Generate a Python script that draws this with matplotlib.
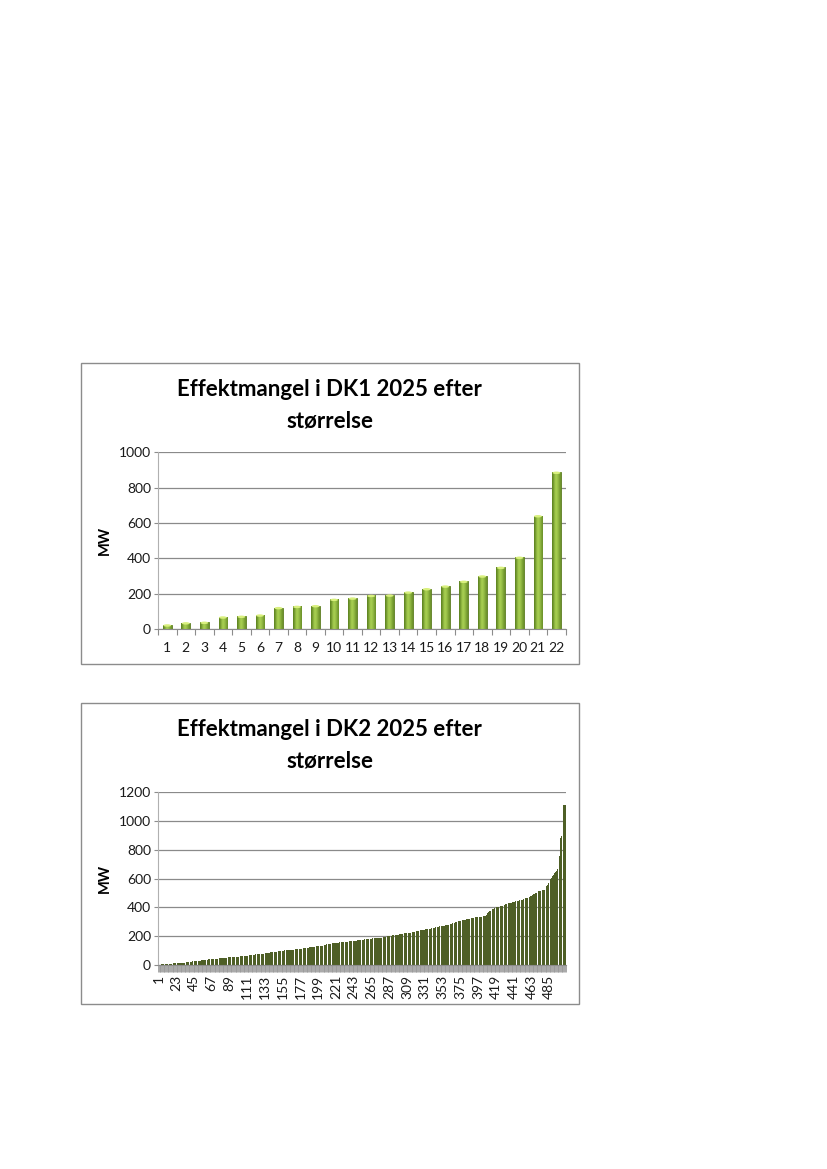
import numpy as np
import matplotlib
matplotlib.use("Agg")
import matplotlib.pyplot as plt
from matplotlib.patches import Rectangle, Ellipse
from matplotlib.colors import LinearSegmentedColormap

plt.rcParams['font.family'] = ['Lato', 'DejaVu Sans']

# ---------------- data ----------------
dk1_title = ["Effektmangel i DK1 2025 efter", "størrelse"]
dk2_title = ["Effektmangel i DK2 2025 efter", "størrelse"]
y_label = "MW"

dk1_categories = list(range(1, 23))
dk1_values = [23, 35, 38, 68, 72, 79, 121, 128, 132, 168, 175, 190, 192, 209,
              228, 243, 270, 300, 349, 406, 641, 887]
dk1_yticks = [0, 200, 400, 600, 800, 1000]

dk2_values = [
    2, 2, 3, 3, 4, 4, 5, 5, 6, 6, 7, 7, 8, 8, 9, 9, 10, 10, 11, 11, 12, 12, 12, 13, 13,
    14, 14, 15, 15, 16, 16, 17, 17, 18, 18, 18, 19, 20, 21, 22, 23, 24, 25, 26, 27, 28, 28, 29, 29, 30,
    30, 31, 31, 32, 32, 33, 34, 35, 36, 36, 37, 38, 39, 39, 40, 41, 42, 42, 43, 43, 44, 44, 45, 45, 45,
    46, 46, 47, 48, 49, 50, 51, 51, 52, 52, 53, 53, 54, 54, 55, 55, 56, 56, 57, 57, 58, 58, 58, 59, 59,
    60, 60, 61, 62, 62, 63, 63, 64, 65, 65, 66, 67, 67, 68, 69, 70, 70, 71, 72, 72, 73, 73, 74, 74, 75,
    75, 76, 77, 77, 78, 79, 80, 81, 82, 83, 84, 85, 85, 86, 87, 88, 89, 90, 90, 91, 92, 93, 94, 94, 95,
    96, 97, 98, 99, 100, 100, 101, 101, 102, 102, 103, 103, 104, 104, 105, 105, 106, 106, 107, 108, 108, 109, 109, 110, 111,
    112, 113, 114, 114, 115, 116, 117, 118, 119, 120, 120, 121, 122, 123, 123, 124, 125, 126, 127, 128, 128, 129, 130, 131, 131,
    132, 133, 133, 134, 135, 137, 139, 141, 143, 144, 145, 146, 148, 149, 150, 151, 152, 153, 154, 154, 155, 155, 156, 156, 157,
    157, 158, 158, 159, 159, 160, 160, 161, 161, 162, 163, 163, 164, 165, 166, 167, 167, 168, 169, 170, 170, 171, 172, 172, 173,
    174, 175, 175, 176, 177, 178, 179, 180, 181, 181, 182, 182, 183, 184, 184, 185, 186, 186, 187, 187, 188, 188, 189, 189, 190,
    190, 191, 192, 193, 194, 195, 196, 197, 198, 199, 200, 201, 202, 203, 204, 205, 206, 207, 208, 209, 210, 211, 211, 212, 213,
    214, 215, 216, 217, 218, 219, 220, 221, 222, 223, 224, 224, 225, 226, 227, 228, 229, 231, 232, 233, 234, 235, 236, 237, 239,
    240, 241, 242, 243, 244, 246, 247, 248, 249, 250, 251, 252, 253, 254, 256, 257, 258, 260, 261, 263, 264, 265, 266, 268, 269,
    270, 271, 272, 273, 274, 275, 276, 277, 279, 280, 282, 283, 285, 287, 289, 291, 293, 295, 297, 299, 301, 303, 305, 306, 308,
    309, 310, 312, 313, 315, 316, 318, 319, 320, 321, 322, 324, 325, 326, 327, 328, 329, 330, 331, 332, 333, 334, 335, 336, 336,
    337, 337, 338, 339, 340, 340, 348, 356, 364, 371, 375, 378, 381, 385, 388, 391, 394, 397, 399, 401, 403, 404, 406, 408, 409,
    411, 413, 415, 417, 419, 421, 423, 424, 426, 428, 430, 432, 434, 436, 438, 440, 441, 443, 444, 445, 447, 448, 449, 451, 452,
    453, 455, 457, 460, 462, 464, 466, 468, 470, 472, 475, 478, 481, 484, 487, 490, 493, 497, 501, 505, 508, 511, 513, 515, 517,
    519, 521, 522, 524, 530, 538, 548, 558, 568, 578, 588, 598, 607, 615, 622, 630, 638, 646, 655, 665, 700, 740, 760, 880, 895,
    900, 1075, 1110, 1112, 1115,
]
dk2_categories = list(range(1, len(dk2_values) + 1))
dk2_label_step = 22
dk2_yticks = [0, 200, 400, 600, 800, 1000, 1200]

# ---------------- figure ----------------
W, H = 827, 1169
fig = plt.figure(figsize=(W / 100, H / 100), dpi=100)

TITLE_FS = 16
TICK_FS = 10
LABEL_FS = 10.5


def fx(px):
    return px / W


def fy(py):
    return 1 - py / H


def frame(top, bottom):
    fig.patches.append(Rectangle((fx(80.5), fy(bottom)), fx(579) - fx(80.5), fy(top) - fy(bottom),
                                 transform=fig.transFigure, fill=False,
                                 edgecolor='#8c8c8c', linewidth=1.0))


def style_axes(ax, yticks):
    ax.set_facecolor('white')
    for s in ['top', 'right']:
        ax.spines[s].set_visible(False)
    ax.spines['left'].set_color('#b0b0b0')
    ax.spines['bottom'].set_color('#8c8c8c')
    ax.set_yticks(yticks)
    ax.set_ylim(yticks[0], yticks[-1])
    ax.yaxis.grid(True, color='#8a8a8a', linewidth=0.9)
    ax.set_axisbelow(True)
    ax.tick_params(axis='y', length=3, color='#8c8c8c', labelsize=TICK_FS,
                   labelcolor='#1a1a1a', pad=2)
    ax.set_ylabel(y_label, fontsize=LABEL_FS, fontweight='bold', labelpad=0)


# ---------------- DK1 ----------------
frame(362.5, 664)
fig.text(fx(329.7), fy(390), dk1_title[0], ha='center', va='center',
         fontsize=TITLE_FS, fontweight='bold', color='black')
fig.text(fx(329.7), fy(421.5), dk1_title[1], ha='center', va='center',
         fontsize=TITLE_FS, fontweight='bold', color='black')

ax1 = fig.add_axes([fx(158), fy(629), fx(565.7) - fx(158), fy(452.3) - fy(629)])
style_axes(ax1, dk1_yticks)
bw = 0.47
bars = ax1.bar(dk1_categories, dk1_values, width=bw, color='#7fa535',
               edgecolor='#5c7d22', linewidth=0.6, zorder=2)
grad = np.array([[0.0, 0.35, 0.75, 1.0, 0.9, 0.7, 0.45, 0.2]])
cmap = LinearSegmentedColormap.from_list('g', ['#5f8522', '#a9d052'])
for b in bars:
    x0, w, h = b.get_x(), b.get_width(), b.get_height()
    im = ax1.imshow(grad, extent=[x0, x0 + w, 0, h], aspect='auto', cmap=cmap,
                    vmin=0, vmax=1, zorder=2.5, interpolation='bicubic')
    im.set_clip_path(b)
    ax1.add_patch(Ellipse((x0 + w / 2, h - 3), w * 0.9, 14, facecolor='#d9f07e',
                          edgecolor='none', zorder=3))
ax1.set_xlim(0.5, 22.5)
ax1.set_ylim(0, 1000)
ax1.set_xticks(np.arange(0.5, 23, 1))
ax1.set_xticklabels([])
ax1.tick_params(axis='x', which='major', length=4, color='#8c8c8c')
ax1.set_xticks(dk1_categories, minor=True)
ax1.set_xticklabels([str(c) for c in dk1_categories], minor=True)
ax1.tick_params(axis='x', which='minor', length=0, labelsize=TICK_FS,
                labelcolor='#1a1a1a', pad=9)
ax1.yaxis.set_label_coords(fx(112 - 158) / (fx(565.7) - fx(158)), 0.5)

# ---------------- DK2 ----------------
frame(702.5, 1004)
fig.text(fx(329.7), fy(730), dk2_title[0], ha='center', va='center',
         fontsize=TITLE_FS, fontweight='bold', color='black')
fig.text(fx(329.7), fy(761.5), dk2_title[1], ha='center', va='center',
         fontsize=TITLE_FS, fontweight='bold', color='black')

ax2 = fig.add_axes([fx(158), fy(965), fx(565.7) - fx(158), fy(792.3) - fy(965)])
style_axes(ax2, dk2_yticks)
n2 = len(dk2_values)
ax2.bar(dk2_categories, dk2_values, width=0.8, color='#4e5f26',
        edgecolor='none', linewidth=0, zorder=2)
ax2.set_xlim(0.5, n2 + 0.5)
ax2.set_xticks(np.arange(0.5, n2 + 1, 1))
ax2.set_xticklabels([])
ax2.tick_params(axis='x', which='major', length=5, width=0.6, color='#9a9a9a')
lab = dk2_categories[::dk2_label_step]
ax2.set_xticks(lab, minor=True)
ax2.set_xticklabels([str(c) for c in lab], minor=True, rotation=90)
ax2.tick_params(axis='x', which='minor', length=0, labelsize=TICK_FS,
                labelcolor='#1a1a1a', pad=7)
ax2.yaxis.set_label_coords(fx(112 - 158) / (fx(565.7) - fx(158)), 0.5)

fig.savefig('out.png', dpi=100, facecolor='white')
